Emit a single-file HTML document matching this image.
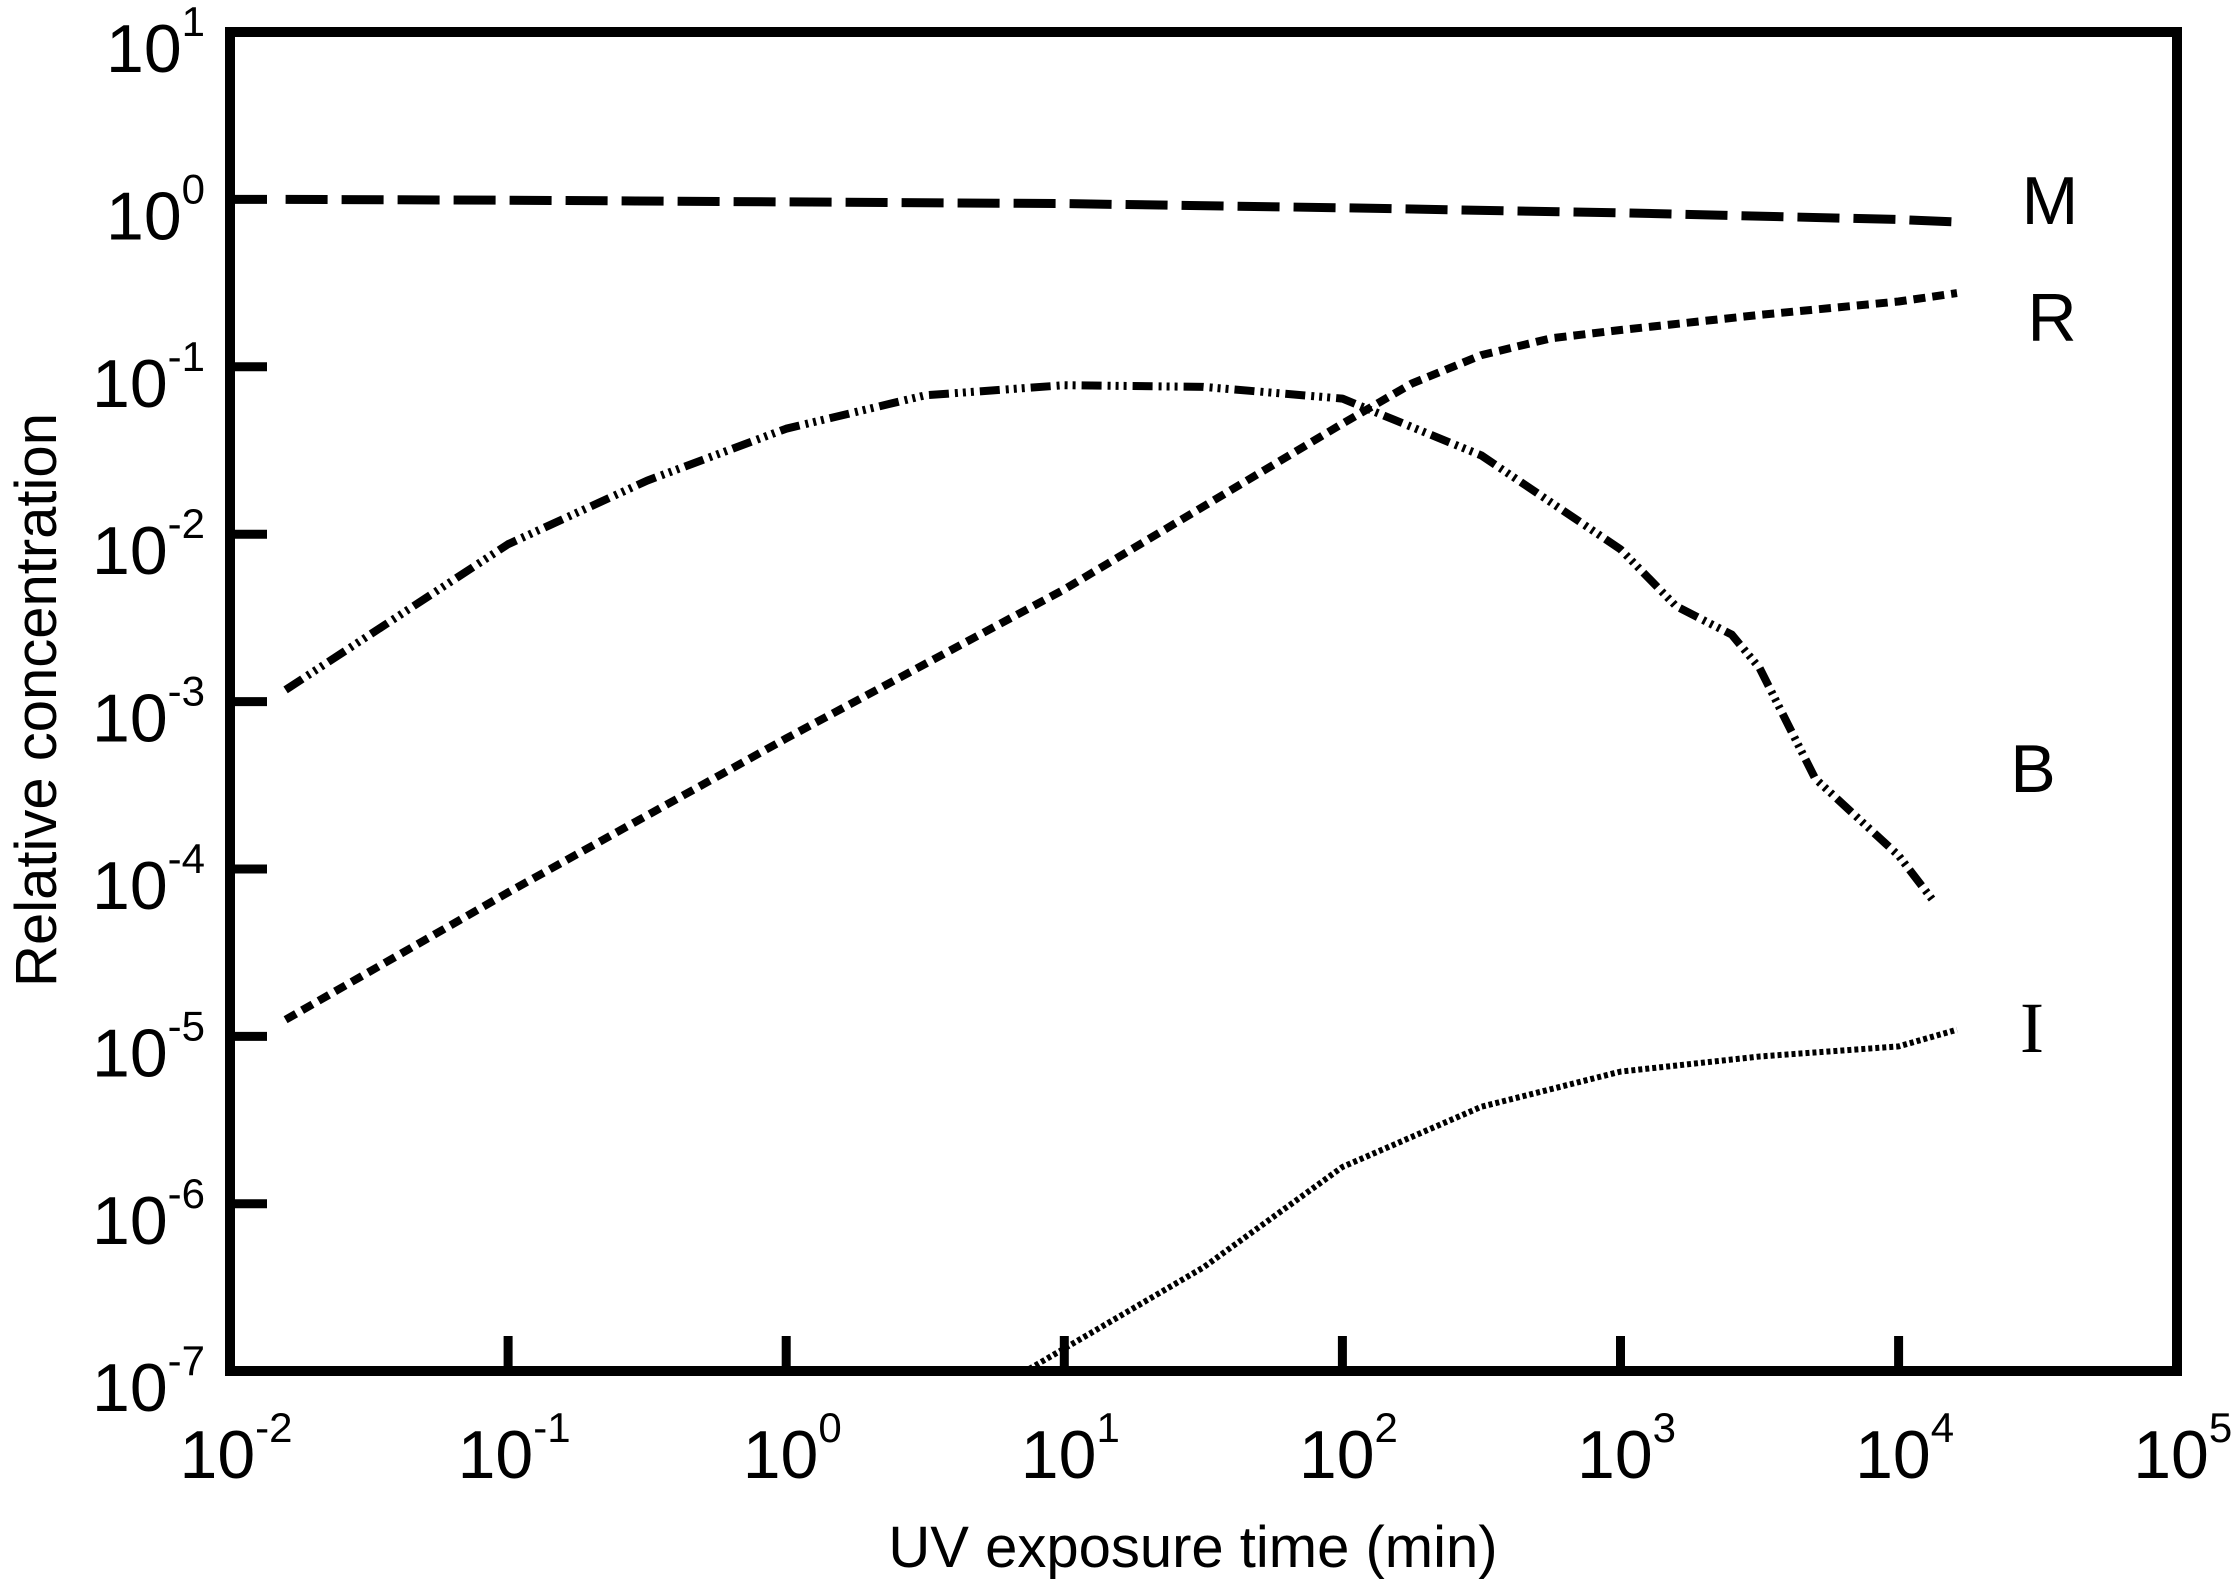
<!DOCTYPE html>
<html><head><meta charset="utf-8"><style>
html,body{margin:0;padding:0;background:#fff;}
svg{display:block;font-family:"Liberation Sans",Arial,sans-serif;}
</style></head><body>
<svg id="chart" width="2237" height="1586" viewBox="0 0 2237 1586" xmlns="http://www.w3.org/2000/svg">
<g id="series"></g>
<rect x="230" y="32" width="1947" height="1339" fill="none" stroke="#000" stroke-width="10"/>
<g id="ticks"></g>
<text x="1193" y="1567" font-size="58" text-anchor="middle">UV exposure time (min)</text>
<text transform="translate(56,700) rotate(-90)" font-size="58" text-anchor="middle">Relative concentration</text>
<text x="2050" y="224" font-size="68" text-anchor="middle">M</text>
<text x="2052" y="341" font-size="68" text-anchor="middle">R</text>
<text x="2033" y="792" font-size="68" text-anchor="middle">B</text>
<text x="2032" y="1052" font-size="72" text-anchor="middle" font-family="Liberation Serif,serif">I</text>
</svg>
<script>
const xTickExps = [-2,-1,0,1,2,3,4,5];
const yTickExps = [1,0,-1,-2,-3,-4,-5,-6,-7];
const mX = [-1.8,-1,0,1,2,3,4,4.21];
const mY = [0,-0.005,-0.015,-0.025,-0.05,-0.08,-0.12,-0.135];
const rX = [-1.8,-1,0,1,2,2.25,2.5,2.75,3,3.5,4,4.21];
const rY = [-4.9,-4.14,-3.22,-2.33,-1.34,-1.1,-0.93,-0.83,-0.78,-0.69,-0.61,-0.56];
const bX = [-1.8,-1,-0.5,0,0.5,1,1.5,2,2.5,3,3.2,3.4,3.5,3.7,4,4.12];
const bY = [-2.93,-2.06,-1.68,-1.37,-1.17,-1.11,-1.12,-1.19,-1.53,-2.09,-2.43,-2.6,-2.8,-3.46,-3.92,-4.18];
const iX = [0.75,0.86,1.5,2,2.5,3,3.5,4,4.21];
const iY = [-7.0,-7.0,-6.38,-5.78,-5.42,-5.21,-5.12,-5.06,-4.96];

const X0=230, XD=278.1, Y0=32, YD=167.4;
const xs = e => X0 + (e+2)*XD;
const ys = e => Y0 + (1-e)*YD;
const NS='http://www.w3.org/2000/svg';
const ser=document.getElementById('series');
const tk=document.getElementById('ticks');

function line(xa,ya,name,dash,w){
  const p=document.createElementNS(NS,'path');
  let d='';
  for(let i=0;i<xa.length;i++) d+=(i?'L':'M')+xs(xa[i]).toFixed(1)+','+ys(ya[i]).toFixed(1);
  p.setAttribute('d',d);
  p.setAttribute('fill','none');p.setAttribute('stroke','#000');
  p.setAttribute('stroke-width',w);p.setAttribute('stroke-dasharray',dash);
  p.setAttribute('stroke-linejoin','round');
  
  
  ser.appendChild(p);
}
line(mX,mY,'series-m-line','42 14',9);
line(rX,rY,'series-r-line','12 7',8);
line(bX,bY,'series-b-line','20 6 3 5 3 5 3 6',8);
line(iX,iY,'series-i-line','4 3',6);

function txt(x,y,base,exp,anchor,name){
  const t=document.createElementNS(NS,'text');
  t.setAttribute('x',x);t.setAttribute('y',y);t.setAttribute('font-size','68');
  t.setAttribute('text-anchor',anchor);
  
  
  const s=document.createElementNS(NS,'tspan');
  s.setAttribute('font-size','42');s.setAttribute('dy','-36');s.textContent=exp;
  t.appendChild(document.createTextNode(base));t.appendChild(s);
  tk.appendChild(t);
}
xTickExps.forEach(e=>{
  const x=xs(e);
  if(e>-2&&e<5){
    const l=document.createElementNS(NS,'line');
    l.setAttribute('x1',x);l.setAttribute('x2',x);l.setAttribute('y1',1371);l.setAttribute('y2',1336);
    l.setAttribute('stroke','#000');l.setAttribute('stroke-width','9');
    
    
    tk.appendChild(l);
  }
  txt(x+6,1478,'10',String(e),'middle','x-tick-label');
});
yTickExps.forEach(e=>{
  const y=ys(e);
  if(e<1&&e>-7){
    const l=document.createElementNS(NS,'line');
    l.setAttribute('x1',230);l.setAttribute('x2',267);l.setAttribute('y1',y);l.setAttribute('y2',y);
    l.setAttribute('stroke','#000');l.setAttribute('stroke-width','9');
    
    
    tk.appendChild(l);
  }
  txt(205,y+40,'10',String(e),'end','y-tick-label');
});
</script>
</body></html>
